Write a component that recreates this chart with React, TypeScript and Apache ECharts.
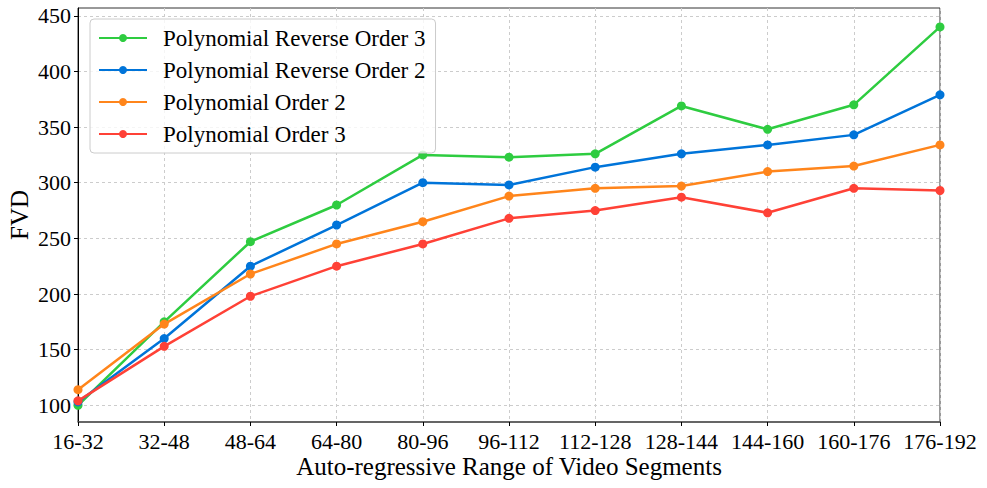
import React, { useEffect, useRef } from "react";
import * as echarts from "echarts";

const categories = ["16-32", "32-48", "48-64", "64-80", "80-96", "96-112", "112-128", "128-144", "144-160", "160-176", "176-192"];
const seriesNames = ["Polynomial Reverse Order 3", "Polynomial Reverse Order 2", "Polynomial Order 2", "Polynomial Order 3"];
const reverseOrder3 = [100, 175, 247, 280, 325, 323, 326, 369, 348, 370, 440];
const reverseOrder2 = [103, 160, 225, 262, 300, 298, 314, 326, 334, 343, 379];
const order2 = [114, 173, 218, 245, 265, 288, 295, 297, 310, 315, 334];
const order3 = [104, 153, 198, 225, 245, 268, 275, 287, 273, 295, 293];
const yTicks = [100, 150, 200, 250, 300, 350, 400, 450];
const colors = ["#2ECC40", "#0074D9", "#FF851B", "#FF4136"];

const FONT = "'Liberation Serif', 'Times New Roman', serif";

export default function App() {
  const ref = useRef<HTMLDivElement>(null);
  useEffect(() => {
    if (!ref.current) return;
    const chart = echarts.init(ref.current, undefined, { renderer: "svg" });
    const dataSets = [reverseOrder3, reverseOrder2, order2, order3];
    chart.setOption({
      animation: false,
      backgroundColor: "#ffffff",
      textStyle: { fontFamily: FONT },
      grid: {
        left: 78,
        right: 47,
        top: 8,
        bottom: 66,
        containLabel: false,
        outerBoundsMode: "none",
        show: true,
        borderColor: "#333",
        borderWidth: 1,
        backgroundColor: "transparent",
      },
      legend: {
        orient: "vertical",
        left: 90,
        top: 19,
        padding: [7, 10, 7, 8],
        itemWidth: 48,
        itemHeight: 10,
        itemGap: 8,
        backgroundColor: "rgba(255,255,255,0.8)",
        borderColor: "#cccccc",
        borderWidth: 1,
        borderRadius: 4,
        data: seriesNames,
        textStyle: {
          fontFamily: FONT,
          fontSize: 23,
          color: "#000",
          lineHeight: 24,
          padding: [0, 0, 0, 11],
        },
      },
      xAxis: {
        type: "category",
        data: categories,
        boundaryGap: false,
        name: "Auto-regressive Range of Video Segments",
        nameLocation: "middle",
        nameGap: 32,
        nameMoveOverlap: false,
        nameTextStyle: { fontFamily: FONT, fontSize: 25, color: "#000" },
        axisLine: { show: true, lineStyle: { color: "#555", width: 1.5 } },
        axisTick: { show: true, alignWithLabel: true, length: 4, lineStyle: { color: "#000" } },
        axisLabel: { fontFamily: FONT, fontSize: 22, color: "#000", margin: 8, interval: 0 },
        splitLine: { show: true, lineStyle: { color: "#cccccc", type: [3, 3], width: 1 } },
      },
      yAxis: {
        type: "value",
        min: 85,
        max: 457,
        splitNumber: 7,
        name: "FVD",
        nameLocation: "middle",
        nameGap: 46,
        nameMoveOverlap: false,
        nameRotate: 90,
        nameTextStyle: { fontFamily: FONT, fontSize: 25, color: "#000" },
        axisLine: { show: true, lineStyle: { color: "#000", width: 1 } },
        axisTick: { show: true, length: 4, lineStyle: { color: "#000" }, customValues: yTicks },
        axisLabel: {
          fontFamily: FONT,
          fontSize: 22,
          color: "#000",
          margin: 7,
          customValues: yTicks,
        },
        splitLine: { show: true, lineStyle: { color: "#cccccc", type: [3, 3], width: 1 } },
      },
      series: seriesNames.map((name, i) => ({
        name,
        type: "line",
        data: dataSets[i],
        symbol: "circle",
        symbolSize: 9,
        showSymbol: true,
        lineStyle: { color: colors[i], width: 2.5 },
        itemStyle: { color: colors[i] },
        z: 2 + i,
      })),
    });
    return () => chart.dispose();
  }, []);
  return (
    <div
      ref={ref}
      style={{ position: "fixed", left: 0, top: 0, width: 987, height: 488 }}
    />
  );
}
